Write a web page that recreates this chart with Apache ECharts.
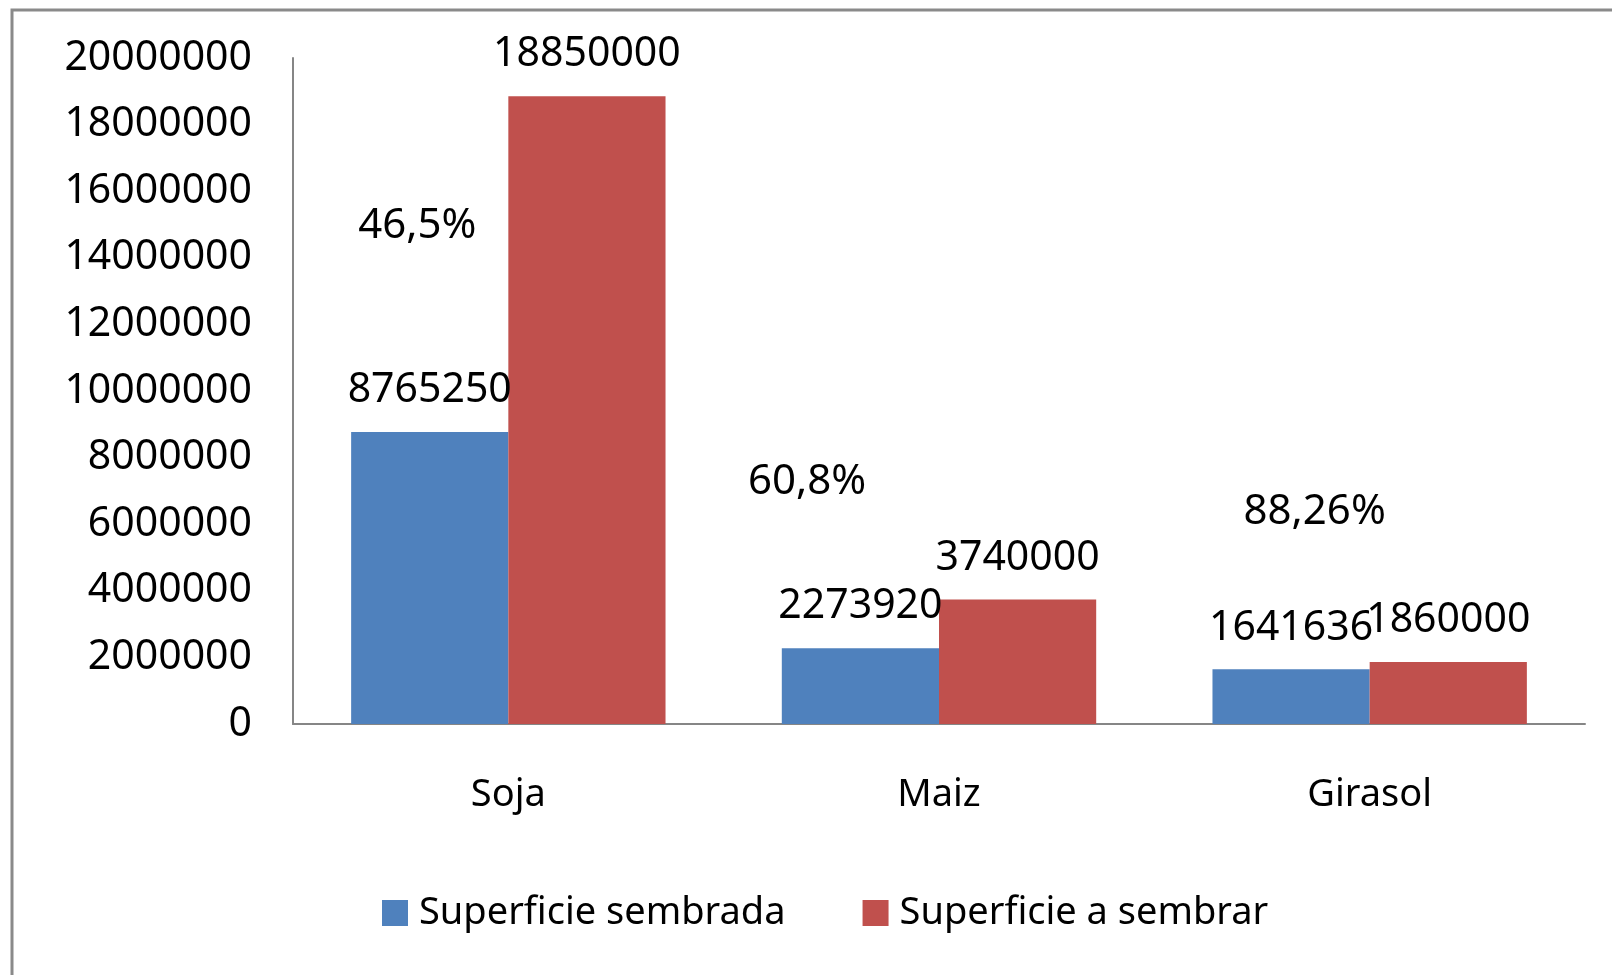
<!DOCTYPE html>
<html>
<head>
<meta charset="utf-8">
<script src="https://cdn.jsdelivr.net/npm/echarts@6/dist/echarts.min.js"></script>
<style>
    html, body { margin: 0; padding: 0; background: #fff; }
    #chart { width: 1612px; height: 975px; }
</style>
</head>
<body>
<div id="chart"></div>
<script>
const categories = ['Soja', 'Maiz', 'Girasol'];
const sembrada = [8765250, 2273920, 1641636];
const aSembrar = [18850000, 3740000, 1860000];
const seriesNames = ['Superficie sembrada', 'Superficie a sembrar'];
// porcentajes escritos a mano sobre el grafico, con su altura aproximada
const pctLabels = ['46,5%', '60,8%', '88,26%'];
const pctHeights = [14950000, 7270000, 6370000];
const pctShiftX = [-91, -132, -55];

const font = 'Noto Sans';
const colors = ['#4F81BD', '#C0504D'];
const numSize = 41;

let chart = echarts.init(document.getElementById('chart'));

let pctData = categories.map((c, i) => {
    return {
        value: [c, pctHeights[i]],
        label: { offset: [pctShiftX[i], 0] }
    };
});

let barLabel = { show: true, position: 'top', distance: 21, fontSize: numSize, color: '#000', fontFamily: font };

let option = {
    animation: false,
    textStyle: { fontFamily: font },
    graphic: [{
        type: 'rect',
        shape: { x: 12, y: 10, width: 1700, height: 1100 },
        style: { fill: 'none', stroke: '#8a8a8a', lineWidth: 3 },
        silent: true
    }],
    grid: {
        left: 293,
        right: 27,
        top: 58,
        bottom: 251
    },
    legend: {
        data: seriesNames,
        bottom: 38,
        left: 377,
        itemWidth: 26,
        itemHeight: 26,
        itemGap: 77,
        icon: 'rect',
        textStyle: { fontSize: 38, color: '#000', fontFamily: font, padding: [0, 0, 0, 6] }
    },
    xAxis: {
        type: 'category',
        data: categories,
        axisLine: { lineStyle: { color: '#868686', width: 2 } },
        axisTick: { show: false },
        axisLabel: { fontSize: 38, color: '#000', margin: 52, fontFamily: font }
    },
    yAxis: {
        type: 'value',
        min: 0,
        max: 20000000,
        interval: 2000000,
        axisLine: { show: true, lineStyle: { color: '#868686', width: 2 } },
        axisTick: { show: false },
        splitLine: { show: false },
        axisLabel: {
            fontSize: numSize,
            color: '#000',
            margin: 41,
            fontFamily: font,
            formatter: v => String(v)
        }
    },
    series: [
        {
            name: seriesNames[0],
            type: 'bar',
            data: sembrada,
            barGap: '0%',
            barCategoryGap: '27%',
            itemStyle: { color: colors[0] },
            label: barLabel
        },
        {
            name: seriesNames[1],
            type: 'bar',
            data: aSembrar,
            barGap: '0%',
            barCategoryGap: '27%',
            itemStyle: { color: colors[1] },
            label: barLabel
        },
        {
            type: 'scatter',
            symbolSize: 0,
            silent: true,
            itemStyle: { opacity: 1 },
            data: pctData,
            label: {
                show: true,
                position: 'inside',
                fontSize: 42,
                color: '#000',
                fontFamily: font,
                formatter: p => pctLabels[p.dataIndex]
            }
        }
    ]
};
chart.setOption(option);
window.addEventListener('resize', () => {
    chart.resize()
})
</script>
</body>
</html>
